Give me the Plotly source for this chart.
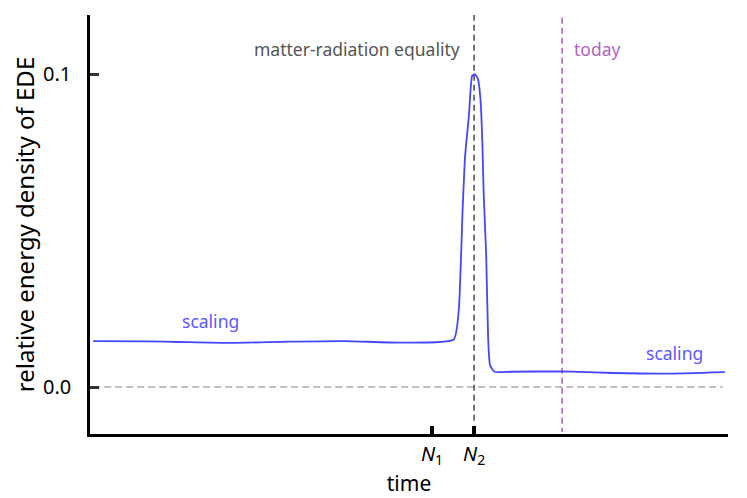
import plotly.graph_objects as go

# ---- data ----
time_x = [0.5, 9, 14, 22, 31, 40, 49, 57.0, 57.8, 58.4, 58.8, 59.4, 59.9, 60.3,
          60.8, 61.2, 61.5, 61.7, 62.1, 62.4, 62.7, 63.4, 66, 74, 82, 90, 99.5]
ede_y = [0.0147, 0.0146, 0.0144, 0.0141, 0.0145, 0.0147, 0.0142, 0.0152, 0.0246,
         0.0565, 0.0740, 0.0870, 0.0995, 0.1000, 0.0985, 0.0920, 0.0780, 0.0620,
         0.0420, 0.0160, 0.0070, 0.0049, 0.0049, 0.0050, 0.0045, 0.0043, 0.0048]

zero_x = [0.5, 99.2]
zero_y = [0.0, 0.0]

N1 = 53.6
N2 = 60.2
today_x = 74.0
vline_eq_y = [0.119, -0.0121]
vline_today_y = [0.118, -0.0144]

xtick_vals = [N1, N2]
xtick_text = ["<i>N</i><sub>1</sub>", "<i>N</i><sub>2</sub>"]
ytick_vals = [0.0, 0.1]
ytick_text = ["0.0", "0.1"]

x_range = [0, 100]
y_range = [-0.015, 0.1189]

FONT = "Noto Sans"
BLUE = "#4646ff"
BLUE_TXT = "#5a5aff"
PURPLE = "#b463c4"
DARK = "#555555"
LIGHT = "#aaaaaa"

fig = go.Figure()

fig.add_trace(go.Scatter(x=zero_x, y=zero_y, mode="lines",
                         line=dict(color=LIGHT, width=1.6, dash="7px,4px"),
                         hoverinfo="skip", showlegend=False))
fig.add_trace(go.Scatter(x=[N2, N2], y=vline_eq_y, mode="lines",
                         line=dict(color=DARK, width=1.6, dash="6px,4px"),
                         hoverinfo="skip", showlegend=False))
fig.add_trace(go.Scatter(x=[today_x, today_x], y=vline_today_y, mode="lines",
                         line=dict(color=PURPLE, width=1.6, dash="6px,4px"),
                         hoverinfo="skip", showlegend=False))
fig.add_trace(go.Scatter(x=time_x, y=ede_y, mode="lines",
                         line=dict(color=BLUE, width=1.8, shape="spline", smoothing=0.5),
                         showlegend=False))

fig.add_annotation(x=58.3, y=0.108, text="matter-radiation equality", showarrow=False,
                   xanchor="right", yanchor="middle", font=dict(color=DARK, size=17.5, family=FONT))
fig.add_annotation(x=75.5, y=0.108, text="today", showarrow=False,
                   xanchor="left", yanchor="middle", font=dict(color=PURPLE, size=17.5, family=FONT))
fig.add_annotation(x=14.1, y=0.0211, text="scaling", showarrow=False,
                   xanchor="left", yanchor="middle", font=dict(color=BLUE_TXT, size=17.5, family=FONT))
fig.add_annotation(x=86.8, y=0.0109, text="scaling", showarrow=False,
                   xanchor="left", yanchor="middle", font=dict(color=BLUE_TXT, size=17.5, family=FONT))

fig.update_layout(
    width=747, height=498,
    margin=dict(l=82, r=27, t=7, b=72),
    plot_bgcolor="white", paper_bgcolor="white",
    font=dict(family=FONT, color="black", size=20),
    xaxis=dict(range=x_range, showgrid=False, zeroline=False, automargin=False,
               showline=True, linecolor="black", linewidth=2.5,
               tickmode="array", tickvals=xtick_vals, ticktext=xtick_text,
               ticks="inside", ticklen=8, tickwidth=4, tickcolor="black",
               tickfont=dict(size=20, family=FONT),
               title=dict(text="time", font=dict(size=21, family=FONT), standoff=2)),
    yaxis=dict(range=y_range, showgrid=False, zeroline=False, automargin=False,
               showline=True, linecolor="black", linewidth=2.5,
               tickmode="array", tickvals=ytick_vals, ticktext=ytick_text,
               ticks="inside", ticklen=9, tickwidth=3, tickcolor="#333333",
               tickfont=dict(size=20, family=FONT), ticklabelstandoff=12,
               title=dict(text="relative energy density of EDE", font=dict(size=24, family=FONT), standoff=8)),
)

fig.write_html("out.html")
